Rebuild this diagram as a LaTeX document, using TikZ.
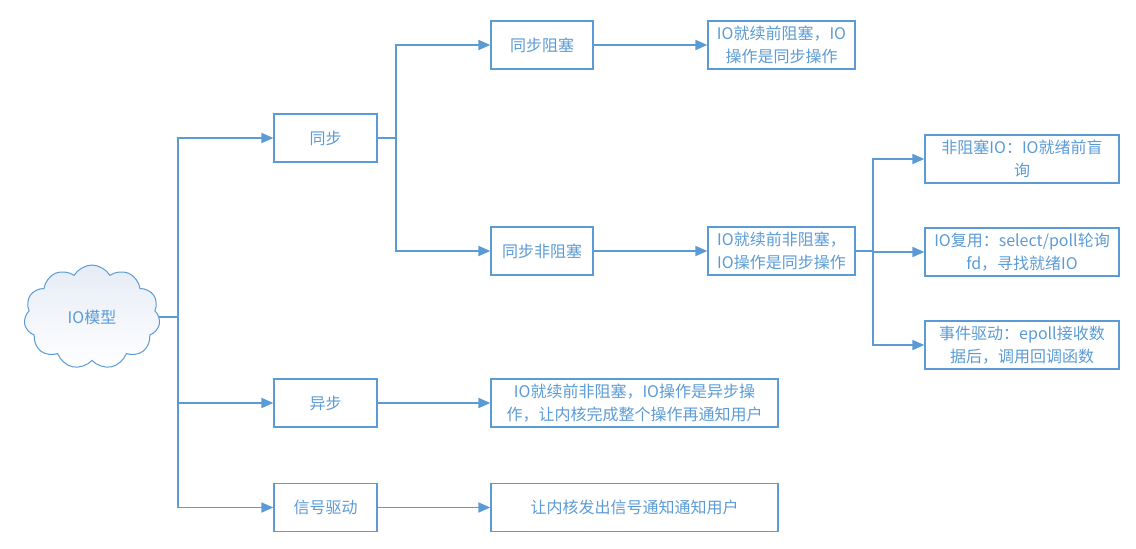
\documentclass[tikz,border=0pt]{standalone}
\usepackage{fontspec}
\setmainfont{Noto Sans CJK SC}
\usetikzlibrary{arrows.meta,shapes.symbols}
\definecolor{lineblue}{HTML}{5B9BD5}
\definecolor{textblue}{HTML}{5B9BD5}
\definecolor{cloudtop}{HTML}{E6ECF6}

\tikzset{
  box/.style={draw=lineblue,line width=1.3pt,text=textblue,align=center,
    minimum height=48pt,inner sep=2pt,font=\fontsize{16}{22.5}\selectfont},
  link/.style={draw=lineblue,line width=1.8pt,
    -{Triangle[length=12pt,width=10pt]}},
}

\begin{document}
\begin{tikzpicture}[x=1pt,y=-1pt]
    \useasboundingbox (0,0) rectangle (1136,549);
    \node[cloud,cloud puffs=11,cloud puff arc=120,aspect=1.35,draw=lineblue,
      line width=1pt,top color=cloudtop,bottom color=white,text=textblue,
      minimum width=136pt,minimum height=104pt,inner sep=0pt,
      font=\fontsize{16}{22.5}\selectfont] (cloud) at (92,317) {IO模型};
    \node[box,minimum width=103pt] (sync) at (325.5,138) {同步};
    \node[box,minimum width=103pt] (async) at (325.5,403) {异步};
    \node[box,minimum width=103pt] (signal) at (325.5,507.5) {信号驱动};
    \node[box,minimum width=102pt] (block) at (542,45) {同步阻塞};
    \node[box,minimum width=102pt] (nonblock) at (542,251) {同步非阻塞};
    \node[box,minimum width=147pt] (blockd) at (781.5,45) {IO就续前阻塞，IO\\操作是同步操作};
    \node[box,minimum width=147pt] (nonblockd) at (781.5,251) {IO就续前非阻塞，\\IO操作是同步操作};
    \node[box,minimum width=287pt] (asyncd) at (634.5,403) {IO就续前非阻塞，IO操作是异步操\\作，让内核完成整个操作再通知用户};
    \node[box,minimum width=287pt] (signald) at (634.5,507.5) {让内核发出信号通知通知用户};
    \node[box,minimum width=194pt] (poll) at (1022,159) {非阻塞IO：IO就绪前盲\\询};
    \node[box,minimum width=194pt] (mux) at (1022,252) {IO复用：select/poll轮询\\fd，寻找就绪IO};
    \node[box,minimum width=194pt] (event) at (1022,345) {事件驱动：epoll接收数\\据后，调用回调函数};
    \coordinate (fork1) at (178,0);
    \coordinate (fork2) at (396,0);
    \coordinate (fork3) at (873,0);
    % from the cloud
    \draw[link] (cloud.east) -- (fork1 |- cloud.east) |- (sync.west);
    \draw[link] (cloud.east) -- (fork1 |- cloud.east) |- (async.west);
    \draw[link] (cloud.east) -- (fork1 |- cloud.east) |- (signal.west);
    % sync branch
    \draw[link] (sync.east) -- (fork2 |- sync.east) |- (block.west);
    \draw[link] (sync.east) -- (fork2 |- sync.east) |- (nonblock.west);
    \draw[link] (block) -- (blockd);
    \draw[link] (nonblock) -- (nonblockd);
    \draw[link] (async) -- (asyncd);
    \draw[link] (signal) -- (signald);
    % non-blocking kinds
    \draw[link] (nonblockd.east) -- (fork3 |- nonblockd.east) |- (poll.west);
    \draw[link] (nonblockd.east) -- (fork3 |- nonblockd.east) |- (mux.west);
    \draw[link] (nonblockd.east) -- (fork3 |- nonblockd.east) |- (event.west);
\end{tikzpicture}
\end{document}
